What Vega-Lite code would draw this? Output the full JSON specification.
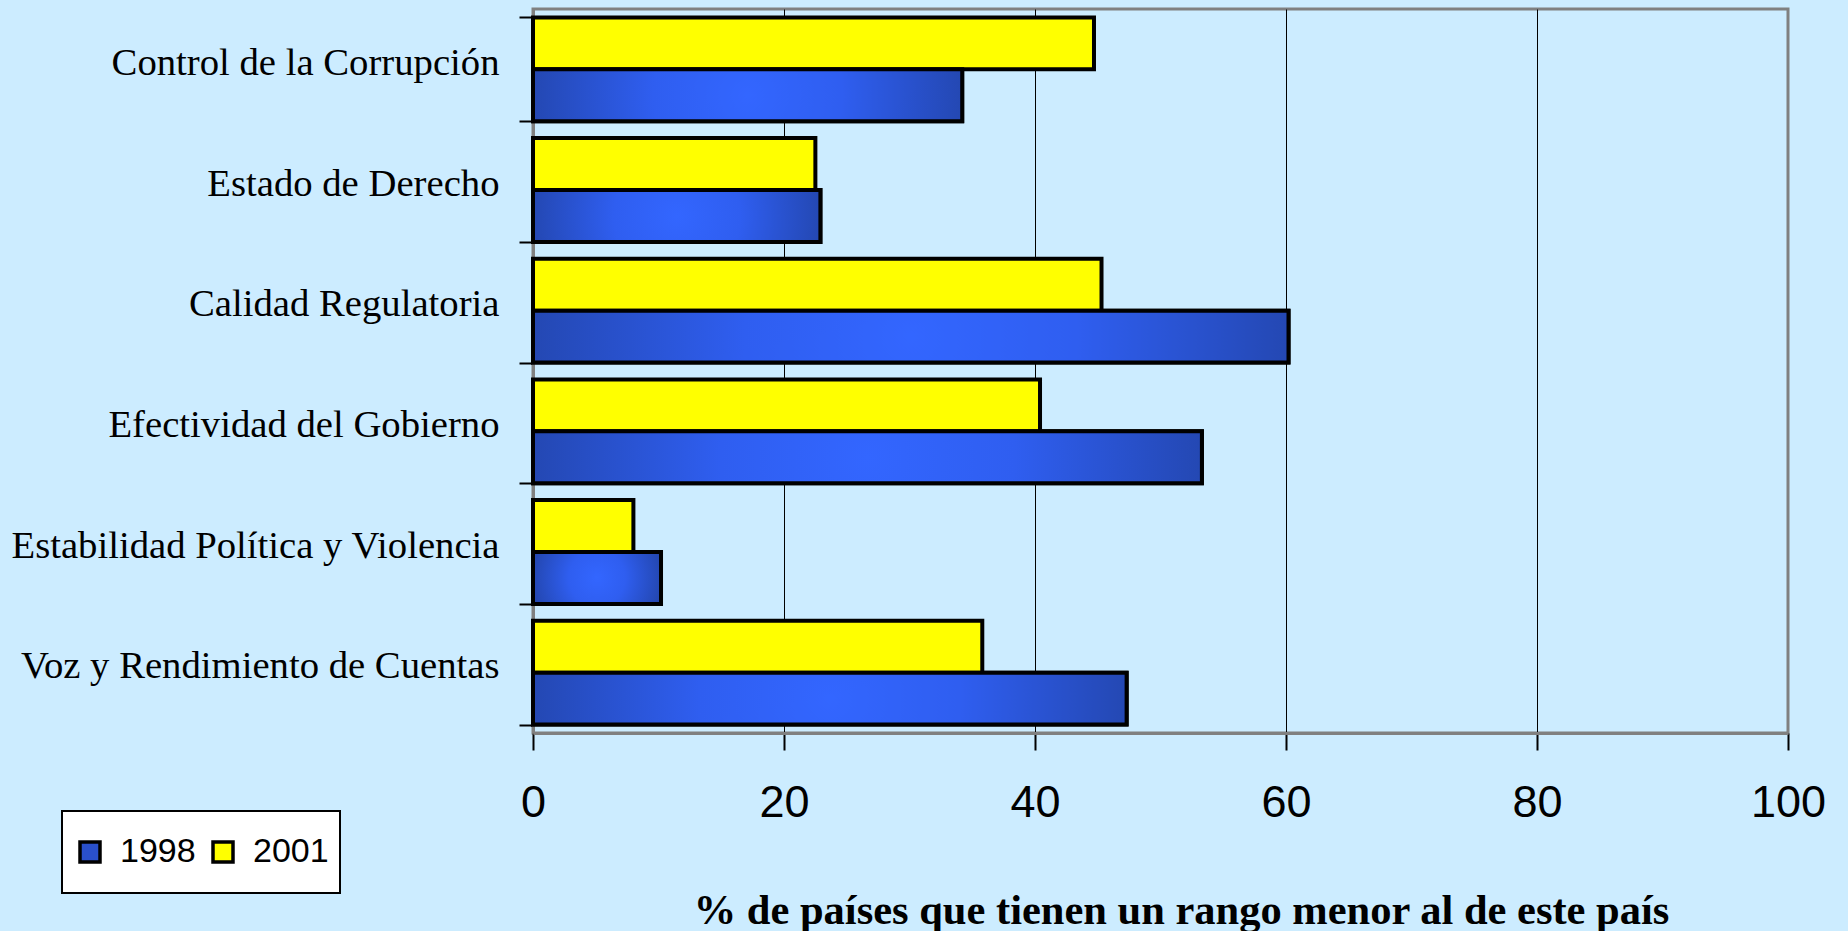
{
  "$schema": "https://vega.github.io/schema/vega-lite/v6.json",
  "width": 1255,
  "height": 724,
  "autosize": {"type": "none"},
  "padding": {"left": 533, "top": 9, "right": 60, "bottom": 198},
  "background": "#CCECFF",
  "config": {
    "view": {"stroke": "#808080", "strokeWidth": 3, "fill": "#CCECFF"},
    "legend": {"strokeWidth": 2}
  },
  "data": {
    "values": [
      {"indicador": "Control de la Corrupción", "year": "1998", "value": 34.2},
      {"indicador": "Control de la Corrupción", "year": "2001", "value": 44.7},
      {"indicador": "Estado de Derecho", "year": "1998", "value": 22.9},
      {"indicador": "Estado de Derecho", "year": "2001", "value": 22.5},
      {"indicador": "Calidad Regulatoria", "year": "1998", "value": 60.2},
      {"indicador": "Calidad Regulatoria", "year": "2001", "value": 45.3},
      {"indicador": "Efectividad del Gobierno", "year": "1998", "value": 53.3},
      {"indicador": "Efectividad del Gobierno", "year": "2001", "value": 40.4},
      {"indicador": "Estabilidad Política y Violencia", "year": "1998", "value": 10.2},
      {"indicador": "Estabilidad Política y Violencia", "year": "2001", "value": 8.0},
      {"indicador": "Voz y Rendimiento de Cuentas", "year": "1998", "value": 47.3},
      {"indicador": "Voz y Rendimiento de Cuentas", "year": "2001", "value": 35.8}
    ]
  },
  "encoding": {
    "y": {
      "field": "indicador",
      "type": "nominal",
      "sort": null,
      "scale": {"paddingInner": 0.14, "paddingOuter": 0.07},
      "axis": {
        "title": null,
        "domainColor": "#808080",
        "domainWidth": 3,
        "tickColor": "black",
        "tickWidth": 2,
        "tickSize": 14,
        "tickBand": "extent",
        "labelPadding": 20,
        "labelFont": "Liberation Serif",
        "labelFontSize": 38.7,
        "labelColor": "black",
        "labelLimit": 600,
        "labelOffset": -7,
        "grid": false
      }
    },
    "yOffset": {"field": "year", "type": "nominal", "sort": ["2001", "1998"]},
    "x": {
      "field": "value",
      "type": "quantitative",
      "stack": null,
      "scale": {"domain": [0, 100], "nice": false},
      "axis": {
        "values": [0, 20, 40, 60, 80, 100],
        "title": "% de países que tienen un rango menor al de este país",
        "titleFont": "Liberation Serif",
        "titleFontSize": 42.5,
        "titleFontWeight": "bold",
        "titleColor": "black",
        "titleX": 648,
        "titleY": 190,
        "titleAlign": "center",
        "titleBaseline": "alphabetic",
        "domainColor": "#808080",
        "domainWidth": 3,
        "tickColor": "black",
        "tickWidth": 2,
        "tickSize": 17,
        "labelPadding": 30,
        "labelFont": "Liberation Sans",
        "labelFontSize": 45,
        "labelColor": "black",
        "labelFlush": false,
        "grid": true,
        "gridColor": "black",
        "gridWidth": 1,
        "gridOpacity": {"condition": {"test": "datum.value == 0 || datum.value == 100", "value": 0}, "value": 1}
      }
    }
  },
  "layer": [
    {
      "mark": {"type": "bar", "stroke": "black", "strokeWidth": 4},
      "encoding": {
        "color": {
          "field": "year",
          "type": "nominal",
          "scale": {"domain": ["1998", "2001"], "range": ["#2a50cc", "#ffff00"]},
          "legend": {
            "title": null,
            "orient": "none",
            "legendX": -471,
            "legendY": 802,
            "direction": "horizontal",
            "fillColor": "white",
            "strokeColor": "black",
            "padding": 11,
            "clipHeight": 60,
            "symbolType": "square",
            "symbolSize": 400,
            "symbolStrokeColor": "black",
            "symbolStrokeWidth": 3.5,
            "symbolOpacity": 1,
            "labelFont": "Liberation Sans",
            "labelFontSize": 34,
            "labelColor": "black",
            "labelOffset": 13,
            "columnPadding": 10
          }
        }
      }
    },
    {
      "transform": [{"filter": "datum.year == '1998'"}],
      "mark": {
        "type": "bar",
        "stroke": "black",
        "strokeWidth": 4,
        "fill": {
          "gradient": "radial",
          "x1": 0.5, "y1": 0.5, "r1": 0,
          "x2": 0.5, "y2": 0.5, "r2": 0.55,
          "stops": [
            {"offset": 0, "color": "#3366ff"},
            {"offset": 0.4, "color": "#2f5ef0"},
            {"offset": 1, "color": "#2244a8"}
          ]
        }
      },
      "encoding": {}
    }
  ]
}
